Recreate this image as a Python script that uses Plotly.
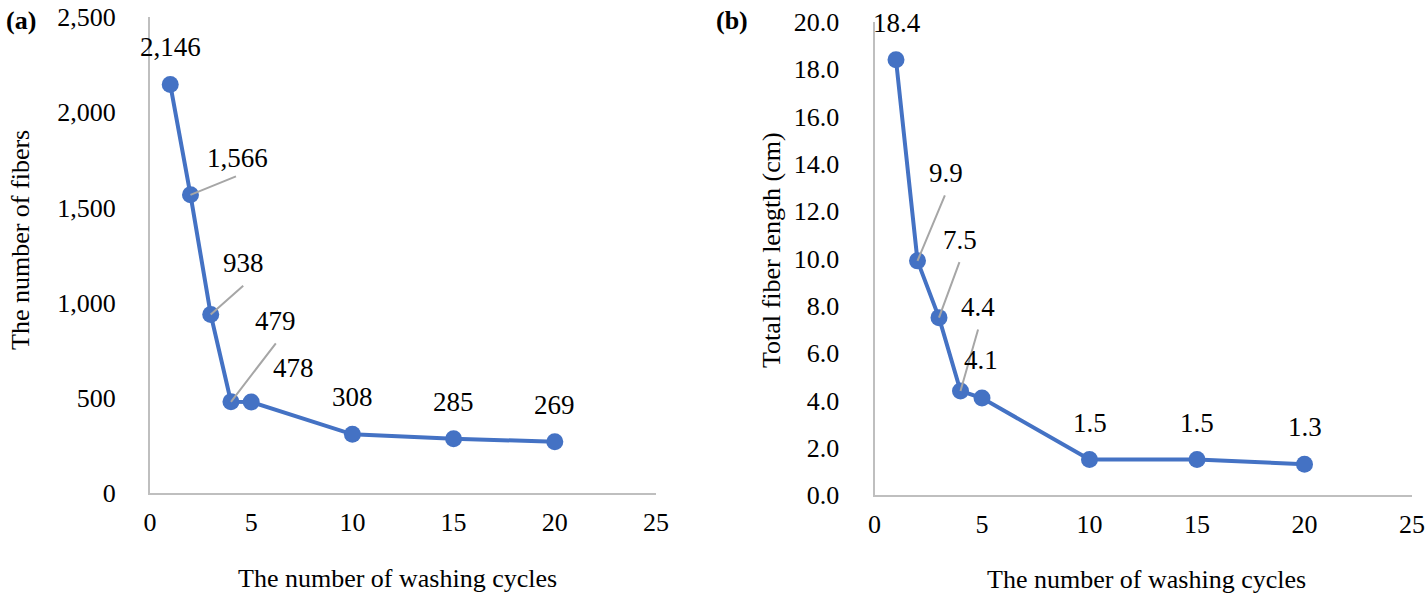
import plotly.graph_objects as go

# ---- data ----
cycles = [1, 2, 3, 4, 5, 10, 15, 20]
fiber_count = [2146, 1566, 938, 479, 478, 308, 285, 269]
fiber_length = [18.4, 9.9, 7.5, 4.4, 4.1, 1.5, 1.5, 1.3]
x_ticks = [0, 5, 10, 15, 20, 25]
count_ticks = [0, 500, 1000, 1500, 2000, 2500]
length_ticks = [0, 2, 4, 6, 8, 10, 12, 14, 16, 18, 20]

# ---- label placement (pixel offsets from point: dx right, dy up) ----
count_label_off = [(0, 37), (47, 37), (33, 51), (45, 81), (42, 34), (0, 37), (0, 37), (0, 37)]
count_leader = [None, (47, 19), (34, 30), (46, 60), None, None, None, None]
length_label_off = [(1, 37), (28, 88), (21, 78), (17, 84), (-1, 38), (0, 37), (0, 37), (0, 37)]
length_leader = [None, (28, 67), (21, 57), (18, 63), None, None, None, None]

W, H = 1427, 595
BLUE = "#4472C4"
AXIS = "#BFBFBF"
LEAD = "#A6A6A6"
FONT = "Liberation Serif"


def px(x):
    return x / W


def py(y):
    return 1 - y / H


fig = go.Figure()
fig.add_trace(go.Scatter(x=cycles, y=fiber_count, mode="lines+markers",
                         line=dict(color=BLUE, width=4),
                         marker=dict(color=BLUE, size=17),
                         xaxis="x", yaxis="y", showlegend=False, hoverinfo="skip"))
fig.add_trace(go.Scatter(x=cycles, y=fiber_length, mode="lines+markers",
                         line=dict(color=BLUE, width=4),
                         marker=dict(color=BLUE, size=17),
                         xaxis="x2", yaxis="y2", showlegend=False, hoverinfo="skip"))

annotations = []


def add_labels(xs, ys, texts, offs, leaders, xref, yref):
    for x, y, t, off, lead in zip(xs, ys, texts, offs, leaders):
        if lead is not None:
            annotations.append(dict(x=x, y=y, xref=xref, yref=yref, text="",
                                    showarrow=True, arrowhead=0, arrowwidth=2,
                                    arrowcolor=LEAD, ax=lead[0], ay=-lead[1],
                                    standoff=0, startstandoff=0))
        annotations.append(dict(x=x, y=y, xref=xref, yref=yref, text=t,
                                showarrow=False, xshift=off[0], yshift=off[1],
                                xanchor="center", yanchor="middle",
                                font=dict(family=FONT, size=27, color="black")))


add_labels(cycles, fiber_count, [f"{v:,}" for v in fiber_count],
           count_label_off, count_leader, "x", "y")
add_labels(cycles, fiber_length, [f"{v:.1f}" for v in fiber_length],
           length_label_off, length_leader, "x2", "y2")


def paper_text(x, y, text, angle=0, anchor="center"):
    annotations.append(dict(x=px(x), y=py(y), xref="paper", yref="paper", text=text,
                            showarrow=False, xanchor=anchor, yanchor="middle",
                            textangle=angle,
                            font=dict(family=FONT, size=26, color="black")))


paper_text(4, 21, "<b>(a)</b>", anchor="left")
paper_text(714, 21, "<b>(b)</b>", anchor="left")
paper_text(397, 578, "The number of washing cycles")
paper_text(1146, 579, "The number of washing cycles")
paper_text(20, 240, "The number of fibers", angle=-90)
paper_text(771, 250, "Total fiber length (cm)", angle=-90)

axis_common = dict(showgrid=False, zeroline=False, showline=True, linecolor=AXIS,
                   linewidth=2, ticks="", automargin=False, ticklabeloverflow="allow",
                   tickfont=dict(family=FONT, size=26, color="black"))

fig.update_layout(
    width=W, height=H, autosize=False,
    margin=dict(l=0, r=0, t=0, b=0, pad=0),
    paper_bgcolor="white", plot_bgcolor="white",
    hovermode=False,
    xaxis=dict(domain=[px(150), px(656)], range=[0, 25], tickvals=x_ticks,
               anchor="y", ticklabelstandoff=5, **axis_common),
    yaxis=dict(domain=[py(493), py(17)], range=[0, 2500], tickvals=count_ticks,
               tickformat=",d", anchor="x", ticklabelstandoff=27, **axis_common),
    xaxis2=dict(domain=[px(874.5), px(1412)], range=[0, 25], tickvals=x_ticks,
                anchor="y2", ticklabelstandoff=5, **axis_common),
    yaxis2=dict(domain=[py(495), py(22)], range=[0, 20], tickvals=length_ticks,
                tickformat=".1f", anchor="x2", ticklabelstandoff=28, **axis_common),
    annotations=annotations,
)

fig.write_html("out.html",
               config={"displayModeBar": False},
               post_script="document.body.style.margin='0';document.body.style.overflow='hidden';")
